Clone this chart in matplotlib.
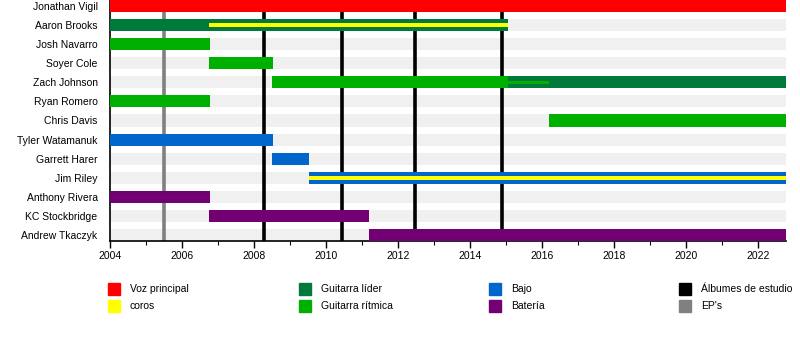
import matplotlib
matplotlib.use("Agg")
import matplotlib.pyplot as plt
from matplotlib.patches import Rectangle
from matplotlib.ticker import MultipleLocator

plt.rcParams['font.family'] = ['Liberation Sans', 'DejaVu Sans']

START = 2004.0
END = 2022.78

members = ["Jonathan Vigil", "Aaron Brooks", "Josh Navarro", "Soyer Cole",
           "Zach Johnson", "Ryan Romero", "Chris Davis", "Tyler Watamanuk",
           "Garrett Harer", "Jim Riley", "Anthony Rivera", "KC Stockbridge",
           "Andrew Tkaczyk"]

# (member, start, end)
vocals = [("Jonathan Vigil", 2004.0, END)]
lead_guitar = [("Aaron Brooks", 2004.0, 2015.05), ("Zach Johnson", 2015.05, END)]
rhythm_guitar = [("Josh Navarro", 2004.0, 2006.78), ("Soyer Cole", 2006.75, 2008.53),
                 ("Zach Johnson", 2008.5, 2015.05), ("Ryan Romero", 2004.0, 2006.78),
                 ("Chris Davis", 2016.2, END)]
bass = [("Tyler Watamanuk", 2004.0, 2008.53), ("Garrett Harer", 2008.5, 2009.53),
        ("Jim Riley", 2009.53, END)]
drums = [("Anthony Rivera", 2004.0, 2006.78), ("KC Stockbridge", 2006.75, 2011.2),
         ("Andrew Tkaczyk", 2011.2, END)]
# thin overlay stripes
backing_vocals = [("Aaron Brooks", 2006.75, 2015.05), ("Jim Riley", 2009.53, END)]
rhythm_thin = [("Zach Johnson", 2015.05, 2016.2)]

studio_albums = [2008.28, 2010.44, 2012.47, 2014.89]
eps = [2005.5]

colors = {
    "vocals": "#ff0000", "backing": "#ffff00", "lead": "#007a3a",
    "rhythm": "#00b000", "bass": "#0066cc", "drums": "#730073",
    "album": "#000000", "ep": "#808080",
}

fig = plt.figure(figsize=(8, 3.6), dpi=100)
ax = fig.add_axes([110/800, 1 - 241/360, 676/800, 241/360])

n = len(members)
ypos = {m: i for i, m in enumerate(members)}
bar_h = 0.63

# background rows
ax.barh(range(n), [END - START] * n, left=START, height=bar_h,
        color="#f0f0f0", zorder=1)

for x in studio_albums:
    ax.axvline(x, color=colors["album"], lw=2.6, zorder=2)
for x in eps:
    ax.axvline(x, color=colors["ep"], lw=2.6, zorder=2)

def draw(spans, color, h, z):
    ax.barh([ypos[m] for m, s, e in spans], [e - s for m, s, e in spans],
            left=[s for m, s, e in spans], height=h, color=color, zorder=z)

draw(vocals, colors["vocals"], bar_h, 3)
draw(lead_guitar, colors["lead"], bar_h, 3)
draw(rhythm_guitar, colors["rhythm"], bar_h, 3)
draw(bass, colors["bass"], bar_h, 3)
draw(drums, colors["drums"], bar_h, 3)
draw(backing_vocals, colors["backing"], 0.22, 4)
draw(rhythm_thin, colors["rhythm"], 0.16, 4)

ax.set_xlim(START, END)
ax.set_ylim(n - 1 + 6/19.08, -6/19.08)
ax.set_yticks(range(n))
ax.set_yticklabels(members, fontsize=7.5)
ax.tick_params(axis='y', length=0, pad=9)
ax.xaxis.set_major_locator(MultipleLocator(2))
ax.xaxis.set_minor_locator(MultipleLocator(1))
ax.tick_params(axis='x', which='major', length=5, width=1, labelsize=7.5, pad=2)
ax.tick_params(axis='x', which='minor', length=3, width=0.8)
for s in ["top", "right"]:
    ax.spines[s].set_visible(False)
ax.spines["left"].set_linewidth(1.2)
ax.spines["bottom"].set_linewidth(1.2)

legend_items = [("Voz principal", colors["vocals"]), ("coros", colors["backing"]),
                ("Guitarra líder", colors["lead"]), ("Guitarra rítmica", colors["rhythm"]),
                ("Bajo", colors["bass"]), ("Batería", colors["drums"]),
                ("Álbumes de estudio", colors["album"]), ("EP's", colors["ep"])]
col_x = [108, 299, 489, 679]
row_y = [289, 306]
for i, (label, c) in enumerate(legend_items):
    cx = col_x[i // 2]
    cy = row_y[i % 2]
    fig.patches.append(Rectangle((cx/800, 1 - (cy + 6)/360), 12/800, 12/360,
                                 transform=fig.transFigure, color=c))
    fig.text((cx + 22)/800, 1 - cy/360, label, fontsize=7.5, va="center", ha="left")

fig.savefig("out.png", dpi=100)
